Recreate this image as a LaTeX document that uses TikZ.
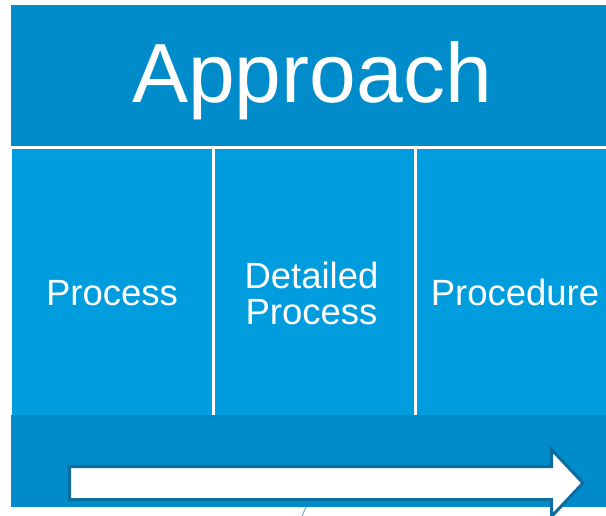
\documentclass[tikz,border=0pt]{standalone}
\usepackage{fontspec}
\setmainfont{Liberation Sans}
\definecolor{darkblue}{RGB}{0,140,202}
\definecolor{lightblue}{RGB}{0,157,222}
\definecolor{arrowedge}{RGB}{14,108,158}
\definecolor{slashcol}{RGB}{120,170,200}
\begin{document}
\begin{tikzpicture}[x=1pt,y=-1pt,
  band/.style={fill=darkblue,draw=none,inner sep=0pt,outer sep=0pt},
  colbox/.style={fill=lightblue,draw=none,inner sep=0pt,outer sep=0pt},
  coltext/.style={text=white,font=\fontsize{36.5}{38}\selectfont,anchor=base,inner sep=0pt},
  titletext/.style={text=white,font=\fontsize{84}{88}\selectfont,anchor=base,inner sep=0pt}]
\useasboundingbox (0,0) rectangle (606,516);
\clip (0,0) rectangle (606,516);
% top banner
\node[band,minimum width=595pt,minimum height=141pt,anchor=north west] (top) at (11,5) {};
% columns
\node[colbox,minimum width=200pt,minimum height=266pt,anchor=north west] (c1) at (12,149) {};
\node[colbox,minimum width=199pt,minimum height=266pt,anchor=north west] (c2) at (215,149) {};
\node[colbox,minimum width=189pt,minimum height=266pt,anchor=north west] (c3) at (417,149) {};
% bottom bar
\node[band,minimum width=595pt,minimum height=92pt,anchor=north west] (bottom) at (11,415) {};
% texts
\node[titletext] (title) at (312,103) {Approach};
\node[coltext] (t1) at (112,305.7) {Process};
\node[coltext] (t2a) at (311.5,288.3) {Detailed};
\node[coltext] (t2b) at (311.5,324) {Process};
\node[coltext] (t3) at (515,305.7) {Procedure};
% arrow
\draw[fill=white,draw=arrowedge,line width=3pt,line join=miter]
  (69.5,466.5) -- (551.5,466.5) -- (551.5,449.5) -- (583,483) -- (551.5,516.5)
  -- (551.5,499.5) -- (69.5,499.5) -- cycle;
% small slash
\coordinate (s1) at (302,516);
\coordinate (s2) at (306,507);
\draw[slashcol,line width=1pt] (s1) -- (s2);
\end{tikzpicture}
\end{document}
